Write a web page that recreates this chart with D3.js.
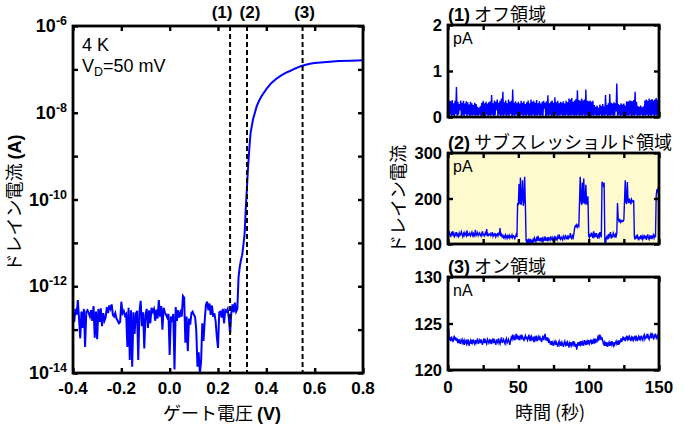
<!DOCTYPE html>
<html><head><meta charset="utf-8">
<script src="https://cdn.jsdelivr.net/npm/d3@7"></script>
<style>body{margin:0;background:#fff}svg{display:block}</style></head><body>
<svg id="c" width="685" height="425"></svg>
<script>
// ---------- DATA ----------
// Left: gate sweep, off-state noise (V = -0.400 ... 0.280, step 0.005)
const noiseStartV = -0.4, noiseStepV = 0.005;
const noiseI = [2.6e-13,1.5e-13,3.0e-13,2.2e-13,4.8e-13,1.8e-13,6.3e-14,2.6e-13,1.1e-13,3.0e-13,
 4.0e-14,2.6e-13,2.8e-13,2.4e-13,2.0e-13,2.8e-13,1.6e-13,3.5e-13,6.5e-14,2.6e-13,
 6.0e-14,3.0e-13,1.5e-13,3.1e-13,1.2e-13,2.4e-13,1.6e-13,1.9e-13,3.3e-13,2.4e-13,
 3.6e-13,3.0e-13,3.8e-13,2.2e-13,2.0e-13,2.4e-13,1.8e-13,1.6e-13,1.4e-13,1.5e-13,
 4.4e-13,2.4e-13,2.7e-13,2.1e-13,2.3e-13,4.0e-14,3.2e-13,2.0e-14,2.8e-13,1.4e-14,
 2.5e-13,8.0e-14,2.3e-13,2.7e-13,2.0e-14,2.6e-13,4.6e-13,1.2e-13,2.5e-13,3.7e-14,
 2.2e-13,3.0e-13,1.1e-13,2.8e-13,1.4e-13,3.2e-13,2.6e-13,3.0e-13,1.6e-13,2.9e-13,
 1.8e-13,4.8e-13,2.0e-13,3.5e-13,1.0e-13,3.2e-13,2.5e-13,2.2e-13,1.9e-13,2.3e-13,
 2.6e-14,2.0e-13,1.5e-13,2.3e-13,1.2e-14,3.3e-13,1.6e-13,2.8e-13,1.9e-13,2.5e-13,
 2.0e-13,6.0e-13,5.5e-13,5.0e-14,2.0e-13,3.2e-14,1.8e-13,1.3e-13,2.4e-13,2.6e-13,
 2.2e-13,2.0e-13,1.0e-13,1.4e-14,3.0e-14,1.0e-14,1.8e-14,1.4e-13,5.5e-14,1.6e-13,
 3.7e-13,4.4e-13,2.8e-13,4.0e-13,2.2e-13,3.6e-13,2.0e-13,2.4e-13,1.6e-13,7.0e-14,
 3.8e-14,2.5e-13,2.6e-13,1.9e-13,3.0e-13,1.4e-13,2.8e-13,2.6e-13,3.0e-13,1.8e-13,
 8.0e-14,2.4e-13,3.8e-13,2.5e-13,4.2e-13,2.6e-13,3.0e-13];
// Left: turn-on part
const riseV = [0.285,0.29,0.295,0.30,0.305,0.31,0.315,0.32,0.325,0.33,0.335,0.34,0.345,0.35,0.36,0.37,0.38,0.40,0.42,0.44,0.46,0.48,0.50,0.52,0.54,0.56,0.58,0.60,0.65,0.70,0.75,0.80];
const riseI = [1.6e-12,2.8e-12,4.0e-12,5.2e-12,8.9e-12,1.6e-11,6.3e-11,2.0e-10,6.3e-10,1.6e-9,3.5e-9,5.0e-9,7.1e-9,8.9e-9,1.4e-8,1.9e-8,2.4e-8,3.5e-8,4.8e-8,6.0e-8,7.2e-8,8.3e-8,9.3e-8,1.05e-7,1.17e-7,1.26e-7,1.35e-7,1.41e-7,1.48e-7,1.55e-7,1.58e-7,1.62e-7];
const markerV = [0.25, 0.32, 0.55];
const markerLabels = ["(1)", "(2)", "(3)"];
const leftXTicks = [-0.4,-0.2,0.0,0.2,0.4,0.6,0.8];
const leftYTicks = [1e-14,1e-13,1e-12,1e-11,1e-10,1e-9,1e-8,1e-7,1e-6];
const leftYLabelExp = [-14,-12,-10,-8,-6];

// Right: time traces (t = 0 ... 150 s, step 0.5 s)
const timeStep = 0.5;
const offI = [.38,.03,.36,.05,.34,.02,.37,.04,.30,.01,.35,.06,.65,.03,.33,.05,.28,.15,.36,.02,
 .31,.04,.35,.03,.29,.06,.34,.02,.32,.05,.27,.01,.33,.04,.30,.03,.26,.05,.31,.02,
 .28,.04,.22,.03,.20,.05,.24,.02,.31,.04,.35,.06,.30,.03,.33,.05,.29,.02,.32,.04,
 .34,.03,.48,.05,.30,.02,.36,.04,.33,.15,.38,.03,.31,.05,.35,.02,.40,.04,.55,.03,
 .32,.05,.36,.02,.30,.04,.38,.03,.33,.06,.35,.02,.60,.04,.31,.03,.34,.05,.30,.02,
 .33,.04,.29,.03,.35,.05,.31,.02,.34,.04,.28,.03,.32,.05,.36,.02,.30,.04,.38,.03,
 .33,.05,.35,.02,.31,.04,.37,.03,.30,.05,.34,.02,.29,.04,.33,.03,.35,.18,.31,.02,
 .34,.04,.47,.03,.30,.05,.33,.02,.36,.04,.31,.03,.43,.05,.32,.02,.35,.04,.30,.03,
 .33,.05,.31,.02,.34,.04,.29,.03,.35,.05,.32,.02,.40,.04,.38,.03,.41,.05,.33,.02,
 .36,.04,.39,.03,.58,.05,.37,.02,.35,.04,.40,.03,.36,.05,.38,.02,.60,.04,.35,.03,
 .34,.05,.36,.02,.33,.04,.35,.03,.26,.05,.22,.02,.25,.04,.20,.03,.27,.05,.24,.02,
 .28,.04,.23,.03,.48,.05,.26,.02,.30,.04,.50,.03,.31,.05,.29,.02,.32,.04,.30,.12,
 .73,.03,.28,.05,.26,.02,.30,.04,.27,.03,.29,.05,.25,.02,.34,.04,.33,.03,.36,.05,
 .35,.02,.34,.04,.37,.03,.55,.05,.33,.02,.24,.04,.22,.03,.25,.05,.21,.02,.23,.04,
 .36,.03,.38,.05,.35,.02,.40,.04,.37,.03,.39,.05,.36,.02,.38,.04,.41,.03,.37,.05,
 .45];
const subI = [122,118,125,120,117,124,121,128,119,116,123,120,126,118,121,117,124,119,122,127,
 120,116,123,119,125,121,118,130,117,122,120,124,118,121,126,119,123,117,120,131,
 119,122,125,118,121,124,120,117,123,128,119,121,118,124,120,133,117,122,119,121,
 123,118,120,126,117,121,119,124,116,120,122,118,125,119,135,117,121,116,119,114,
 117,113,120,116,112,118,115,119,113,117,115,120,114,118,116,112,117,121,115,190,
 185,232,188,246,186,200,240,184,192,248,187,108,104,110,102,109,105,111,103,107,
 104,110,106,113,108,105,112,107,118,109,111,106,114,108,112,105,110,116,107,113,
 109,112,106,115,110,108,117,111,109,114,107,112,118,110,113,109,116,111,121,112,
 110,115,112,109,117,113,111,120,114,112,116,110,119,113,124,115,112,118,114,122,
 135,140,138,142,137,141,139,192,248,196,186,235,189,244,193,187,230,191,186,205,
 118,114,122,116,125,119,113,128,117,121,115,124,118,112,120,116,126,119,115,237,
 232,228,235,105,100,113,118,110,122,115,119,126,112,118,116,124,120,114,121,117,
 123,190,155,150,153,148,152,149,151,150,153,196,240,192,188,236,195,190,200,193,
 187,198,194,192,196,115,110,118,112,121,114,108,116,111,119,113,117,110,115,120,
 112,118,109,116,121,113,110,117,114,119,111,116,120,113,118,115,205,220,212,225,
 218];
const onI = [124.8,124.5,123.2,123.5,123.1,123.6,123.3,123.0,123.4,123.7,123.2,123.5,123.1,123.4,122.9,123.3,123.0,123.2,122.8,123.1,
 123.3,122.9,123.1,122.7,123.2,123.0,122.8,123.3,122.9,123.1,122.6,123.0,123.2,122.8,123.1,122.9,123.3,123.0,122.8,123.2,
 122.9,123.1,123.4,122.8,123.0,123.2,122.9,123.3,123.0,122.7,123.1,123.4,122.9,123.2,123.0,122.8,123.3,123.1,122.9,123.2,
 123.0,123.3,122.8,123.1,123.4,122.9,123.2,123.0,122.7,123.3,123.1,122.9,123.4,123.0,122.8,123.2,123.5,122.9,123.1,123.3,
 123.0,122.8,123.2,123.4,122.9,123.1,123.3,123.0,122.7,123.2,123.5,123.3,123.8,123.4,123.6,123.2,123.5,123.9,123.3,123.6,
 123.4,123.7,123.2,123.5,123.8,123.3,123.6,123.4,123.1,123.5,123.7,123.3,123.6,123.2,123.4,123.8,123.3,123.5,123.1,123.6,
 123.4,123.2,123.6,123.0,123.5,123.3,123.7,123.1,123.4,123.6,123.2,123.5,123.3,123.0,123.4,123.7,123.2,123.5,123.9,123.3,
 123.4,123.1,123.5,122.9,123.2,123.0,122.7,123.1,122.8,123.0,122.6,122.9,123.1,122.7,123.0,122.8,122.5,122.9,123.1,122.7,
 122.9,122.6,123.0,122.8,122.5,122.9,123.1,122.7,122.9,122.6,123.0,122.8,122.4,122.9,122.7,123.0,122.6,122.8,123.1,122.7,
 122.9,122.5,122.8,122.2,122.7,123.0,122.6,122.9,122.7,123.1,122.8,123.0,122.6,122.9,123.2,122.8,123.0,122.7,123.1,122.9,
 123.2,122.8,123.0,123.3,122.9,123.1,122.8,123.2,123.0,123.4,122.9,123.2,123.1,123.5,123.3,123.8,123.4,123.6,123.2,123.5,
 123.1,122.8,123.0,122.6,122.9,122.7,123.0,122.5,122.8,123.0,122.6,122.9,122.7,123.1,122.8,122.6,123.0,122.7,122.9,123.1,
 122.8,123.0,122.7,123.2,122.9,123.1,123.4,123.0,123.3,123.6,123.2,123.5,123.1,123.4,123.7,123.3,123.5,123.2,123.6,123.4,
 123.1,123.5,123.3,123.6,123.2,123.4,123.7,123.3,123.5,123.1,123.4,123.6,123.2,123.5,123.3,123.7,123.4,123.2,123.6,123.8,
 123.3,123.5,123.7,123.4,123.9,123.5,123.3,123.6,123.8,123.4,124.0,123.6,123.4,123.7,123.5,123.9,123.6,123.4,123.7,123.5,
 123.6];
const panelTitles = [["(1)", " オフ領域"], ["(2)", " サブスレッショルド領域"], ["(3)", " オン領域"]];
const panelUnits = ["pA", "pA", "nA"];
const panelDomains = [[0, 2], [100, 300], [120, 130]];
const panelYTicks = [[0, 1, 2], [100, 200, 300], [120, 125, 130]];
const timeTicks = [0, 25, 50, 75, 100, 125, 150];
const timeLabels = [0, 50, 100, 150];

// ---------- DRAW ----------
const FONT = "'Liberation Sans', Arial, 'Noto Sans CJK JP', sans-serif";
const JP = "'Noto Sans CJK JP', 'Liberation Sans', sans-serif";
const BLUE = "#0000ff";
const svg = d3.select("#c").style("font-family", FONT);
const defs = svg.append("defs");

function frameAxes(g, x, y, xt, yt) {
  const [x0, x1] = x.range(), [y1, y0] = y.range();
  const tk = 5;
  const mk = (axis, tr) => {
    const a = g.append("g").attr("transform", tr).call(axis);
    a.select(".domain").remove();
    a.selectAll(".tick line").attr("stroke", "#000").attr("stroke-width", 2.4);
    return a;
  };
  mk(d3.axisBottom(x).tickValues(xt).tickSize(-tk).tickFormat(""), `translate(0,${y1})`);
  mk(d3.axisTop(x).tickValues(xt).tickSize(-tk).tickFormat(""), `translate(0,${y0})`);
  mk(d3.axisLeft(y).tickValues(yt).tickSize(-tk).tickFormat(""), `translate(${x0},0)`);
  mk(d3.axisRight(y).tickValues(yt).tickSize(-tk).tickFormat(""), `translate(${x1},0)`);
  g.append("rect").attr("x", x0).attr("y", y0).attr("width", x1 - x0).attr("height", y1 - y0)
    .attr("fill", "none").attr("stroke", "#000").attr("stroke-width", 2.8);
}

// ===== Left plot =====
const L = {l: 73, r: 363, t: 26, b: 373};
const xL = d3.scaleLinear().domain([-0.4, 0.8]).range([L.l, L.r]);
const yL = d3.scaleLog().domain([1e-14, 1e-6]).range([L.b, L.t]);
defs.append("clipPath").attr("id", "clipL").append("rect")
  .attr("x", L.l).attr("y", L.t).attr("width", L.r - L.l).attr("height", L.b - L.t);

const gL = svg.append("g");
const leftData = noiseI.map((v, i) => [noiseStartV + i * noiseStepV, v])
  .concat(riseV.map((v, i) => [v, riseI[i]]));
gL.append("path").datum(leftData).attr("clip-path", "url(#clipL)")
  .attr("fill", "none").attr("stroke", BLUE).attr("stroke-width", 2)
  .attr("d", d3.line().x(d => xL(d[0])).y(d => yL(Math.max(d[1], 1e-14))));

const markerLabelDx = [-8, 3, 2];
markerV.forEach((v, i) => {
  gL.append("line").attr("x1", xL(v)).attr("x2", xL(v)).attr("y1", L.t).attr("y2", L.b)
    .attr("stroke", "#000").attr("stroke-width", 2).attr("stroke-dasharray", "5,3");
  gL.append("text").attr("x", xL(v) + markerLabelDx[i]).attr("y", 18).attr("text-anchor", "middle")
    .attr("font-size", 17).attr("font-weight", "bold").text(markerLabels[i]);
});

frameAxes(gL, xL, yL, leftXTicks, leftYTicks);

leftXTicks.forEach(v => {
  gL.append("text").attr("x", xL(v)).attr("y", 394).attr("text-anchor", "middle")
    .attr("font-size", 17).attr("font-weight", "bold").text(d3.format(".1f")(v).replace("−", "-"));
});
leftYLabelExp.forEach(e => {
  const t = gL.append("text").attr("x", 67).attr("y", yL(Math.pow(10, e)) + 6)
    .attr("text-anchor", "end").attr("font-weight", "bold").attr("font-size", 18);
  t.append("tspan").text("10");
  t.append("tspan").attr("font-size", 12.5).attr("dy", -7).text(String(e));
});

gL.append("text").attr("x", 82).attr("y", 51).attr("font-size", 18).text("4 K");
const vd = gL.append("text").attr("x", 82).attr("y", 72).attr("font-size", 18);
vd.append("tspan").text("V");
vd.append("tspan").attr("font-size", 12.5).attr("dy", 4).text("D");
vd.append("tspan").attr("dy", -4).text("=50 mV");

const xlab = gL.append("text").attr("x", 222).attr("y", 420).attr("text-anchor", "middle").attr("font-size", 18);
xlab.append("tspan").attr("font-family", JP).text("ゲート電圧 ");
xlab.append("tspan").attr("font-weight", "bold").text("(V)");
const ylab = gL.append("text").attr("transform", "translate(21,203) rotate(-90)")
  .attr("text-anchor", "middle").attr("font-size", 18);
ylab.append("tspan").attr("font-family", JP).text("ドレイン電流 ");
ylab.append("tspan").attr("font-weight", "bold").text("(A)");

// ===== Right panels =====
const R = {l: 448, r: 659};
const panelTB = [[25, 117], [153, 244], [277, 370]];
const xR = d3.scaleLinear().domain([0, 150]).range([R.l, R.r]);
const series = [offI, subI, onI];
const panelFill = ["none", "#fffacd", "none"];

series.forEach((vals, p) => {
  const [t, b] = panelTB[p];
  const y = d3.scaleLinear().domain(panelDomains[p]).range([b, t]);
  const g = svg.append("g");
  if (panelFill[p] !== "none")
    g.append("rect").attr("x", R.l).attr("y", t).attr("width", R.r - R.l).attr("height", b - t).attr("fill", panelFill[p]);
  defs.append("clipPath").attr("id", "clipR" + p).append("rect")
    .attr("x", R.l).attr("y", t).attr("width", R.r - R.l).attr("height", b - t);
  g.append("path").datum(vals).attr("clip-path", `url(#clipR${p})`)
    .attr("fill", "none").attr("stroke", BLUE).attr("stroke-width", 1.4)
    .attr("d", d3.line().x((d, i) => xR(i * timeStep)).y(d => y(d)));
  frameAxes(g, xR, y, timeTicks, panelYTicks[p]);
  panelYTicks[p].forEach(v => {
    g.append("text").attr("x", 442).attr("y", y(v) + 6).attr("text-anchor", "end")
      .attr("font-size", 16.5).attr("font-weight", "bold").text(v);
  });
  const tt = g.append("text").attr("x", R.l).attr("y", t - 4.5).attr("font-size", 18);
  tt.append("tspan").attr("font-weight", "bold").text(panelTitles[p][0]);
  tt.append("tspan").attr("font-family", JP).text(panelTitles[p][1]);
  g.append("text").attr("x", 453).attr("y", t + 19).attr("font-size", 16).text(panelUnits[p]);
  if (p === 2) {
    timeLabels.forEach(v => {
      g.append("text").attr("x", xR(v)).attr("y", 393).attr("text-anchor", "middle")
        .attr("font-size", 17).attr("font-weight", "bold").text(v);
    });
  }
});
svg.append("text").attr("x", 550).attr("y", 419).attr("text-anchor", "middle")
  .attr("font-size", 18).attr("font-family", JP).text("時間 (秒)");
svg.append("text").attr("transform", "translate(405,199) rotate(-90)")
  .attr("text-anchor", "middle").attr("font-size", 18).attr("font-family", JP).text("ドレイン電流");
</script></body></html>
